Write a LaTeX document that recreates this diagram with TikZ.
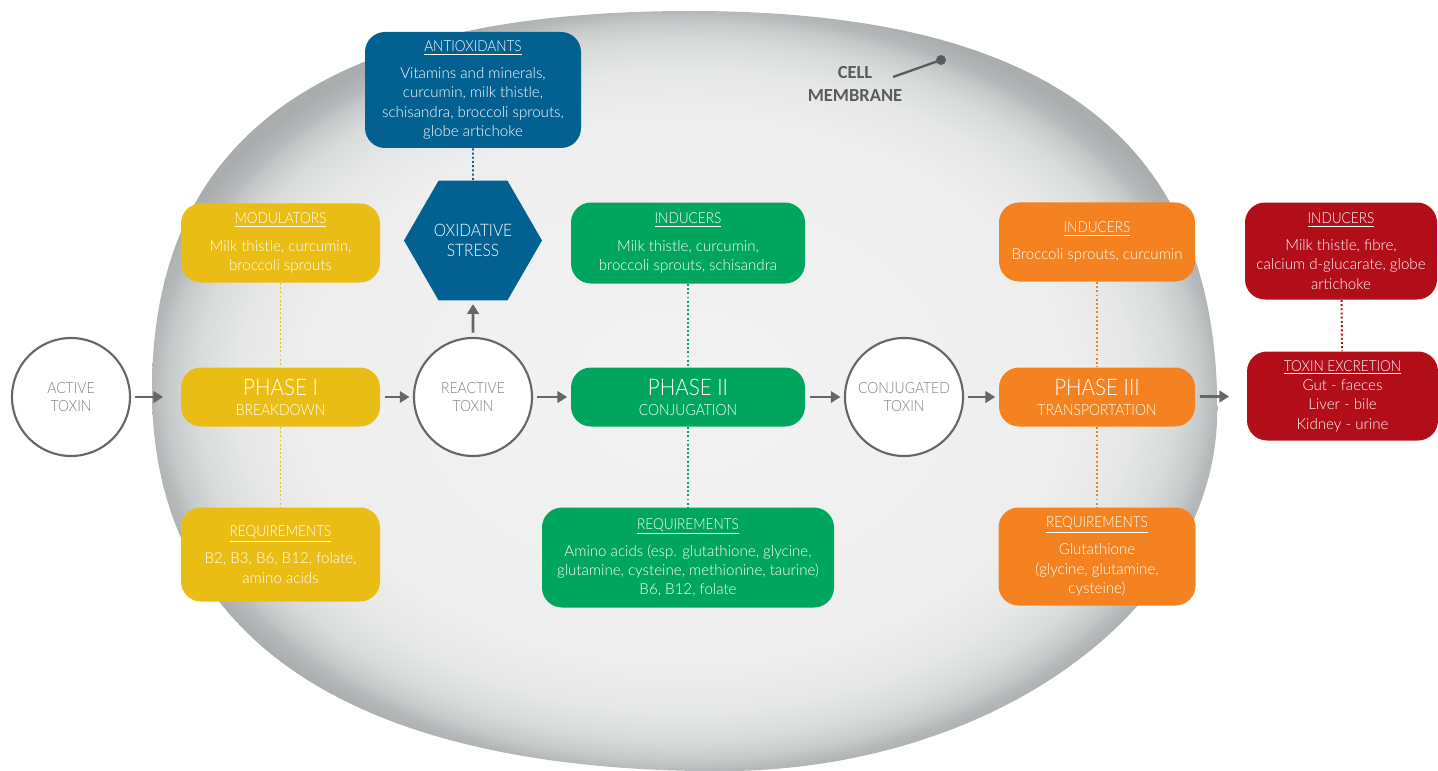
\documentclass[tikz,border=0pt]{standalone}
\usepackage{fontspec}
\IfFontExistsTF{Lato Light}{\setmainfont{Lato Light}\newfontfamily\capsfont{Lato Light}[FakeStretch=0.9]}{\setmainfont{Carlito}\newfontfamily\capsfont{Carlito}}
\newfontfamily\labelfont{Carlito}
\usetikzlibrary{shapes.geometric, arrows.meta}

\definecolor{phaseyellow}{HTML}{EABD15}
\definecolor{phaseblue}{HTML}{036191}
\definecolor{phasegreen}{HTML}{00A65D}
\definecolor{phaseorange}{HTML}{F58220}
\definecolor{phasered}{HTML}{B20E1A}
\definecolor{flowgray}{HTML}{666666}
\definecolor{toxingray}{HTML}{808080}
\definecolor{labelgray}{HTML}{5A5B5D}
\definecolor{memcore}{HTML}{F3F3F3}
\definecolor{memlight}{HTML}{EEEEEE}
\definecolor{memmid}{HTML}{E6E7E7}
\definecolor{memdark}{HTML}{D9DBDB}
\definecolor{memshade}{HTML}{C6C9C9}
\definecolor{memrim}{HTML}{B5B8B8}
\definecolor{memedge}{HTML}{A9ADAD}

\pgfdeclareradialshading{membrane}{\pgfpoint{0bp}{0bp}}{color(0bp)=(memcore); color(18bp)=(memlight); color(21bp)=(memmid); color(23bp)=(memdark); color(24.3bp)=(memshade); color(25bp)=(memrim); color(26bp)=(memedge); color(50bp)=(memedge)}

\newcommand{\boxtitle}[1]{{\capsfont\underline{#1}}}

\tikzstyle{infobox} = [rectangle, rounded corners=0.4cm, align=center, text=white, inner sep=2pt, font=\fontsize{8.6}{11}\selectfont]
\tikzstyle{phasebox} = [rectangle, rounded corners=0.4cm, align=center, text=white, inner sep=2pt, minimum width=3.98cm, minimum height=1.18cm, font=\capsfont\fontsize{8.8}{11.4}\selectfont]
\tikzstyle{toxin} = [circle, draw=flowgray, line width=1.2pt, fill=white, minimum size=2.36cm, align=center, text=toxingray, font=\capsfont\fontsize{8.8}{9.8}\selectfont]
\tikzstyle{stress} = [regular polygon, regular polygon sides=6, minimum size=2.76cm, inner sep=0pt, fill=phaseblue, text=white, align=center, font=\capsfont\fontsize{9.8}{11.8}\selectfont]
\tikzstyle{flowarrow} = [line width=1.6pt, draw=flowgray, -{Triangle[length=5.5pt,width=6.5pt]}, shorten <=2.5pt, shorten >=2pt]
\tikzstyle{dotlink} = [line width=1.1pt, dash pattern=on 1.1pt off 1.3pt]

\begin{document}
\begin{tikzpicture}[node distance=1cm]
		\useasboundingbox (0,0) rectangle (28.76,-15.42);
		\begin{scope}[x=0.02cm, y=-0.02cm]
			\shade[shading=membrane] (152,390) .. controls (152,132) and (330,11) .. (690,11) .. controls (1048,11) and (1217,139) .. (1217,410) .. controls (1217,609) and (993,771) .. (720,771) .. controls (351,771) and (152,638) .. (152,390) -- cycle;
		\end{scope}
		\node (cellmembrane) [align=center, text=labelgray, font=\labelfont\fontsize{10.5}{13.6}\selectfont\bfseries] at (17.10,-1.68) {CELL\\MEMBRANE};
		\coordinate (pinstart) at (17.86,-1.54);
		\coordinate (pin) at (18.82,-1.20);
		\draw [labelgray, line width=1.3pt] (pinstart) -- (pin);
		\fill [labelgray] (pin) circle (0.1cm);
		\node (active) [toxin] at (1.42,-7.94) {ACTIVE\\TOXIN};
		\node (phase1) [phasebox, fill=phaseyellow, right of=active, xshift=3.19cm] {{\fontsize{13}{14}\selectfont PHASE I}\\BREAKDOWN};
		\node (reactive) [toxin, right of=phase1, xshift=2.85cm] {REACTIVE\\TOXIN};
		\node (phase2) [phasebox, fill=phasegreen, minimum width=4.68cm, right of=reactive, xshift=3.30cm] {{\fontsize{13}{14}\selectfont PHASE II}\\CONJUGATION};
		\node (conjugated) [toxin, right of=phase2, xshift=3.32cm] {CONJUGATED\\TOXIN};
		\node (phase3) [phasebox, fill=phaseorange, minimum width=3.92cm, right of=conjugated, xshift=2.86cm] {{\fontsize{13}{14}\selectfont PHASE III}\\TRANSPORTATION};
		\node (excretion) [infobox, fill=phasered, minimum width=3.82cm, minimum height=1.78cm, right of=phase3, xshift=3.91cm, yshift=0.02cm] {\boxtitle{TOXIN EXCRETION}\\Gut - faeces\\Liver - bile\\Kidney - urine};
		\node (modulators) [infobox, fill=phaseyellow, minimum width=3.98cm, minimum height=1.58cm, above of=phase1, yshift=2.08cm] {\boxtitle{MODULATORS}\\[4.5pt]Milk thistle, curcumin,\\broccoli sprouts};
		\node (needs1) [infobox, fill=phaseyellow, minimum width=3.98cm, minimum height=1.88cm, below of=phase1, yshift=-2.15cm] {\boxtitle{REQUIREMENTS}\\[4.5pt]B2, B3, B6, B12, folate,\\amino acids};
		\node (stress) [stress, above of=reactive, yshift=2.13cm] {OXIDATIVE\\STRESS};
		\node (antioxidants) [infobox, fill=phaseblue, minimum width=4.32cm, minimum height=2.32cm, above of=stress, yshift=2.01cm] {\boxtitle{ANTIOXIDANTS}\\[4.5pt]Vitamins and minerals,\\curcumin, milk thistle,\\schisandra, broccoli sprouts,\\globe artichoke};
		\node (inducers2) [infobox, fill=phasegreen, minimum width=4.68cm, minimum height=1.62cm, above of=phase2, yshift=2.08cm] {\boxtitle{INDUCERS}\\[4.5pt]Milk thistle, curcumin,\\broccoli sprouts, schisandra};
		\node (needs2) [infobox, fill=phasegreen, minimum width=5.84cm, minimum height=2.0cm, below of=phase2, yshift=-2.21cm] {\boxtitle{REQUIREMENTS}\\[4.5pt]Amino acids (esp. glutathione, glycine,\\glutamine, cysteine, methionine, taurine)\\B6, B12, folate};
		\node (inducers3) [infobox, fill=phaseorange, minimum width=3.92cm, minimum height=1.58cm, above of=phase3, yshift=2.10cm] {\boxtitle{INDUCERS}\\[4.5pt]Broccoli sprouts, curcumin};
		\node (needs3) [infobox, fill=phaseorange, minimum width=3.94cm, minimum height=1.96cm, below of=phase3, yshift=-2.19cm] {\boxtitle{REQUIREMENTS}\\[4.5pt]Glutathione\\(glycine, glutamine,\\cysteine)};
		\node (inducers4) [infobox, fill=phasered, minimum width=3.84cm, minimum height=1.94cm, above of=excretion, yshift=1.90cm, xshift=-0.03cm] {\boxtitle{INDUCERS}\\[4.5pt]Milk thistle, fibre,\\calcium d-glucarate, globe\\artichoke};
		\draw [flowarrow, shorten >=10pt] (active) -- (phase1);
		\draw [flowarrow] (phase1) -- (reactive);
		\draw [flowarrow] (reactive) -- (phase2);
		\draw [flowarrow] (phase2) -- (conjugated);
		\draw [flowarrow] (conjugated) -- (phase3);
		\draw [flowarrow, shorten >=10pt] (phase3) -- (excretion);
		\draw [flowarrow] (reactive) -- (stress);
		\draw [dotlink, draw=phaseyellow] (modulators) -- (phase1);
		\draw [dotlink, draw=phaseyellow] (phase1) -- (needs1);
		\draw [dotlink, draw=phaseblue] (antioxidants) -- (stress);
		\draw [dotlink, draw=phasegreen] (inducers2) -- (phase2);
		\draw [dotlink, draw=phasegreen] (phase2) -- (needs2);
		\draw [dotlink, draw=phaseorange] (inducers3) -- (phase3);
		\draw [dotlink, draw=phaseorange] (phase3) -- (needs3);
		\draw [dotlink, draw=phasered] (inducers4) -- (excretion);
	\end{tikzpicture}
\end{document}
